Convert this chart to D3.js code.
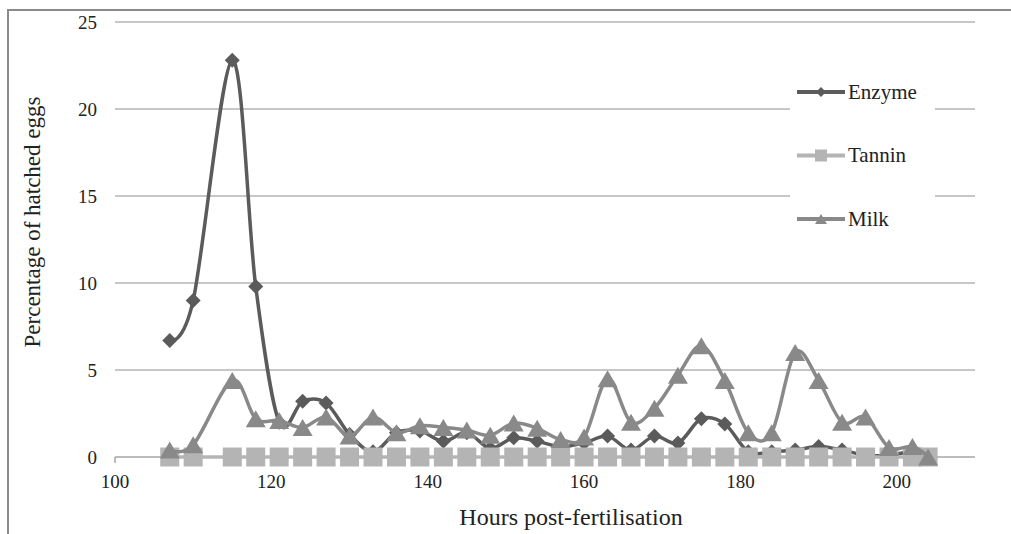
<!DOCTYPE html>
<html>
<head>
<meta charset="utf-8">
<script src="https://cdn.jsdelivr.net/npm/d3@7"></script>
<style>
  body { margin: 0; background: #fff; }
</style>
</head>
<body>
<div id="chart"></div>
<script>
// hours post-fertilisation
const hours = [107, 110, 115, 118, 121, 124, 127, 130, 133, 136, 139, 142, 145, 148, 151, 154, 157,
  160, 163, 166, 169, 172, 175, 178, 181, 184, 187, 190, 193, 196, 199, 202, 204];

const enzyme = [6.7, 9.0, 22.8, 9.8, 2.0, 3.2, 3.1, 1.3, 0.3, 1.4, 1.5, 0.9, 1.4, 0.5, 1.1, 0.9, 0.6,
  0.8, 1.2, 0.4, 1.2, 0.8, 2.2, 1.9, 0.3, 0.3, 0.4, 0.6, 0.4, 0.1, 0.1, 0.3, 0];

const tannin = [0, 0, 0, 0, 0, 0, 0, 0, 0, 0, 0, 0, 0, 0, 0, 0, 0,
  0, 0, 0, 0, 0, 0, 0, 0, 0, 0, 0, 0, 0, 0, 0, 0];

const milk = [0.4, 0.7, 4.4, 2.2, 2.1, 1.7, 2.3, 1.2, 2.3, 1.4, 1.8, 1.7, 1.55, 1.25, 1.95, 1.65, 1.0,
  1.15, 4.5, 2.0, 2.8, 4.7, 6.4, 4.4, 1.4, 1.4, 6.0, 4.4, 2.0, 2.3, 0.55, 0.6, 0];

const xTicks = [100, 120, 140, 160, 180, 200];
const yTicks = [0, 5, 10, 15, 20, 25];

const width = 1011, height = 534;

const svg = d3.select("#chart")
  .append("svg")
    .attr("width", width)
    .attr("height", height)
    .attr("font-family", "'Liberation Serif', 'Times New Roman', Times, serif")
    .style("display", "block");

// outer chart border (cropped at right and bottom)
svg.append("path")
  .attr("d", "M8,534 L8,10 L1011,10")
  .attr("fill", "none")
  .attr("stroke", "#8a8a8a")
  .attr("stroke-width", 2);

let x = d3.scaleLinear().domain([100, 210]).range([115, 975]);
let y = d3.scaleLinear().domain([0, 25]).range([457, 22]);

// gridlines
svg.append("g")
  .selectAll("line")
  .data(yTicks.filter(d => d > 0))
  .enter()
  .append("line")
    .attr("x1", x(100))
    .attr("x2", x(210))
    .attr("y1", d => y(d))
    .attr("y2", d => y(d))
    .attr("stroke", "#8e8e8e")
    .attr("stroke-width", 1);

// x axis line + single tick at origin
svg.append("line")
  .attr("x1", x(100)).attr("x2", x(210))
  .attr("y1", y(0)).attr("y2", y(0))
  .attr("stroke", "#a6a6a6").attr("stroke-width", 1.5);
svg.append("line")
  .attr("x1", x(100)).attr("x2", x(100))
  .attr("y1", y(0)).attr("y2", y(0) + 6)
  .attr("stroke", "#a6a6a6").attr("stroke-width", 1.5);

// tick labels
svg.append("g")
  .selectAll("text")
  .data(yTicks)
  .enter()
  .append("text")
    .attr("x", 97)
    .attr("y", d => y(d))
    .attr("dy", "0.35em")
    .attr("text-anchor", "end")
    .attr("font-size", 19)
    .attr("fill", "#222")
    .text(d => d);

svg.append("g")
  .selectAll("text")
  .data(xTicks)
  .enter()
  .append("text")
    .attr("x", d => x(d))
    .attr("y", 488)
    .attr("text-anchor", "middle")
    .attr("font-size", 19)
    .attr("fill", "#222")
    .text(d => d);

// axis titles
svg.append("text")
  .attr("x", 571)
  .attr("y", 525)
  .attr("text-anchor", "middle")
  .attr("font-size", 24)
  .attr("fill", "#222")
  .text("Hours post-fertilisation");

svg.append("text")
  .attr("transform", "translate(40,222) rotate(-90)")
  .attr("text-anchor", "middle")
  .attr("font-size", 23)
  .attr("fill", "#222")
  .text("Percentage of hatched eggs");

// marker shapes
function marker(kind, s) {
  if (kind === "diamond") return `M0,${-s / 2}L${s / 2},0L0,${s / 2}L${-s / 2},0Z`;
  if (kind === "square") return `M${-s / 2},${-s / 2}h${s}v${s}h${-s}Z`;
  let h = s * 0.85;
  return `M0,${-h / 2}L${s / 2},${h / 2}L${-s / 2},${h / 2}Z`;
}

const series = [
  { name: "Enzyme", values: enzyme, color: "#5b5b5b", kind: "diamond", size: 15 },
  { name: "Tannin", values: tannin, color: "#b4b4b4", kind: "square", size: 19 },
  { name: "Milk", values: milk, color: "#898989", kind: "triangle", size: 20 }
];

const line = d3.line()
  .x(d => x(d[0]))
  .y(d => y(d[1]))
  .curve(d3.curveCardinal.tension(0));

series.forEach(function(s) {
  let pts = hours.map((h, i) => [h, s.values[i]]);
  let g = svg.append("g");
  g.append("path")
    .attr("d", line(pts))
    .attr("fill", "none")
    .attr("stroke", s.color)
    .attr("stroke-width", 3.5);
  g.selectAll("path.m")
    .data(pts)
    .enter()
    .append("path")
      .attr("class", "m")
      .attr("transform", d => "translate(" + x(d[0]) + "," + y(d[1]) + ")")
      .attr("d", marker(s.kind, s.size))
      .attr("fill", s.color);
});

// legend
let legend = svg.append("g");
legend.append("rect")
  .attr("x", 790).attr("y", 68)
  .attr("width", 145).attr("height", 180)
  .attr("fill", "#fff");

let item = legend.selectAll("g")
  .data(series)
  .enter()
  .append("g")
    .attr("transform", (d, i) => "translate(797," + (92 + i * 63.5) + ")");
item.append("line")
  .attr("x1", 0).attr("x2", 48)
  .attr("stroke", d => d.color)
  .attr("stroke-width", 4);
item.append("path")
  .attr("transform", "translate(24,0)")
  .attr("d", d => marker(d.kind, d.kind === "diamond" ? 10 : 12))
  .attr("fill", d => d.color);
item.append("text")
  .attr("x", 51)
  .attr("y", 0)
  .attr("dy", "0.33em")
  .attr("font-size", 21)
  .attr("fill", "#222")
  .text(d => d.name);
</script>
</body>
</html>
